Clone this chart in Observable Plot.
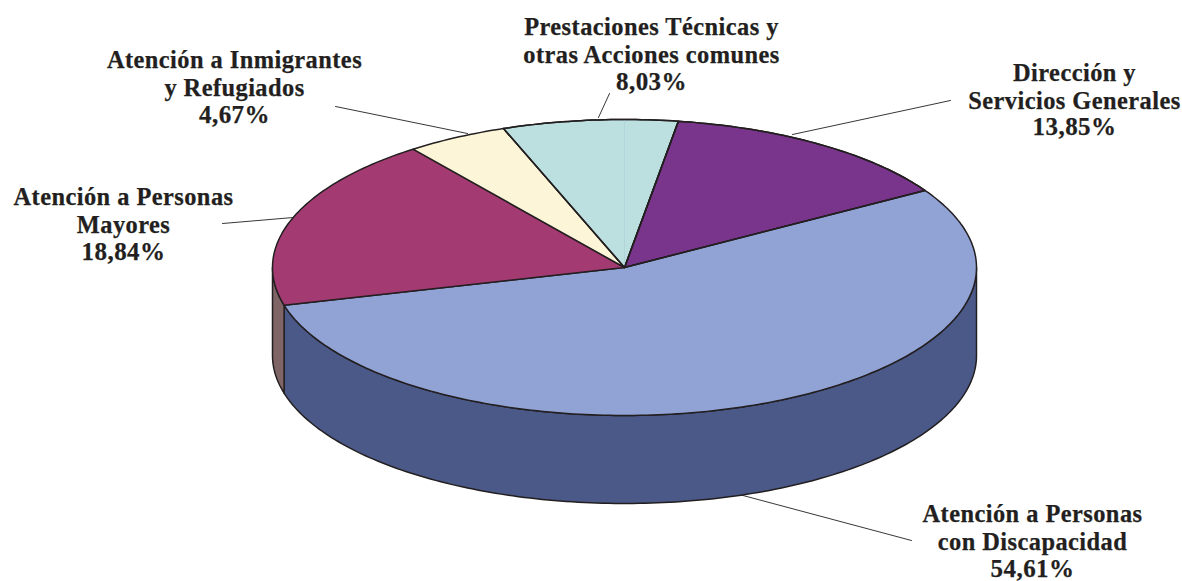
<!DOCTYPE html>
<html lang="es">
<head>
<meta charset="utf-8">
<script src="https://cdn.jsdelivr.net/npm/d3@7"></script>
<script src="https://cdn.jsdelivr.net/npm/@observablehq/plot@0.6"></script>
<style>html,body{margin:0;padding:0;background:#fff;overflow:hidden}</style>
</head>
<body>
<div id="chart"></div>
<script>
// Data, in drawing order (clockwise from the start angle)
const categories = [
  "Dirección y\nServicios Generales",
  "Atención a Personas\ncon Discapacidad",
  "Atención a Personas\nMayores",
  "Atención a Inmigrantes\ny Refugiados",
  "Prestaciones Técnicas y\notras Acciones comunes"
];
const shares = [13.85, 54.61, 18.84, 4.67, 8.03];
const topColors = ["#79358c", "#91a3d5", "#a33a72", "#fcf5d7", "#bcdfdf"];
const wallColors = ["#4b5989", "#4b5989", "#806566", "#806566", "#806566"];

// Layout of the tilted disc, in pixels of the picture
const W = 1182, H = 581;
const cx = 624, cy = 267, rx = 352, ry = 148, depth = 88, startDeg = 8.8;
const ink = "#231f20";
const labelAnchors = [[1074, 60], [1032, 501], [123, 184], [234, 47], [651, 14]];
const percentAnchors = [[1074, 126], [1032, 568.5], [123, 251], [234, 114], [651, 81]];
const leaderEnds = [[950, 100], [911, 540], [222, 223], [335, 106], [609, 93]];
const leaderStarts = [[792, 134], [735, 493], [293, 217], [467, 133], [598, 117]];

const rad = d => d * Math.PI / 180;
const rim = (deg, dy = 0) => [cx + rx * Math.sin(rad(deg)), cy - ry * Math.cos(rad(deg)) + dy];
const arc = (a, b, dy = 0) => {
  const n = Math.max(2, Math.ceil(Math.abs(b - a)));
  return d3.range(n + 1).map(i => rim(a + (b - a) * i / n, dy));
};

// Angular extent of every slice, from its share
let acc = startDeg;
const slices = shares.map((v, i) => {
  const a = acc, b = acc + v * 3.6;
  acc = b;
  return {i, a, b};
});

const tops = [], walls = [];
const toRows = (pts, key, color) => pts.map(([x, y]) => ({x, y, key, color}));
for (const {i, a, b} of slices) {
  const pts = [[cx, cy], ...arc(a, b), [cx, cy]];
  tops.push(...toRows(pts, i, topColors[i]));
  // only the part of the rim that faces the viewer has a wall (90° to 270°)
  const wa = Math.max(a, 90), wb = Math.min(b, 270);
  if (wb > wa) {
    const wall = [...arc(wa, wb), ...arc(wb, wa, depth)];
    wall.push(wall[0]);
    walls.push(...toRows(wall, i, wallColors[i]));
  }
}

const seam = [[cx, cy], rim(0)].map(([x, y]) => ({x, y}));
const leaders = slices.flatMap(({i}) => [leaderStarts[i], leaderEnds[i]].map(([x, y]) => ({x, y, i})));
const names = categories.map((c, i) => ({text: c, x: labelAnchors[i][0], y: labelAnchors[i][1]}));
const percents = shares.map((v, i) => ({
  text: v.toFixed(2).replace(".", ",") + "%",
  x: percentAnchors[i][0],
  y: percentAnchors[i][1]
}));
const outline = {x: "x", y: "y", z: "key", stroke: ink, strokeWidth: 1.5, strokeLinejoin: "round"};

const plot = Plot.plot({
  width: W, height: H,
  margin: 0,
  x: {type: "linear", domain: [0, W], range: [0, W], axis: null},
  y: {type: "linear", domain: [0, H], range: [0, H], axis: null},
  style: {background: "#fff", letterSpacing: "0.45px"},
  marks: [
    Plot.line(leaders, {x: "x", y: "y", z: "i", stroke: ink, strokeWidth: 0.9}),
    Plot.line(walls, {...outline, fill: "color"}),
    Plot.line(tops, {...outline, fill: "color"}),
    Plot.line(seam, {x: "x", y: "y", stroke: "#aed2d8", strokeWidth: 0.8}),
    Plot.line(tops.filter(d => d.key === 0 || d.key === 4), outline),
    Plot.text(names, {
      x: "x", y: "y", text: "text",
      fontFamily: "Liberation Serif", fontWeight: "bold", fontSize: 24.4,
      lineAnchor: "top", lineHeight: 1.13, textAnchor: "middle", fill: ink,
      stroke: ink, strokeWidth: 0.25, dy: 1
    }),
    Plot.text(percents, {
      x: "x", y: "y", text: "text",
      fontFamily: "Liberation Serif", fontWeight: "bold", fontSize: 25,
      lineAnchor: "middle", textAnchor: "middle", fill: ink,
      stroke: ink, strokeWidth: 0.25
    })
  ]
});
document.getElementById("chart").append(plot);
</script>
</body>
</html>
